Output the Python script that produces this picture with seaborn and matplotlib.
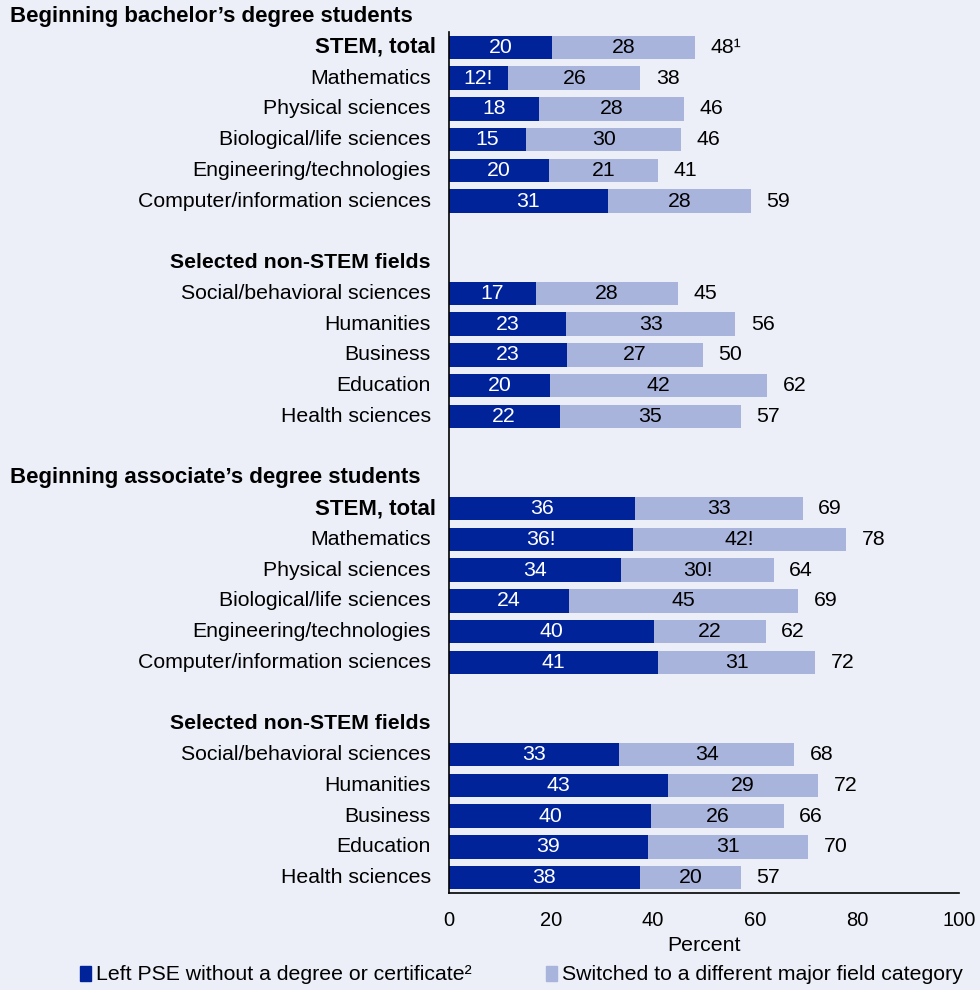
import pandas as pd
import seaborn as sns
import matplotlib.pyplot as plt
from matplotlib.patches import Patch

# Data (percent)
fields = ["STEM, total", "Mathematics", "Physical sciences", "Biological/life sciences",
          "Engineering/technologies", "Computer/information sciences"]
non_stem = ["Social/behavioral sciences", "Humanities", "Business", "Education", "Health sciences"]

# Beginning bachelor's degree students
ba_left = [20.3, 11.7, 17.7, 15.2, 19.7, 31.2, 17.1, 23.0, 23.2, 19.9, 21.8]
ba_switched = [28.0, 25.9, 28.4, 30.4, 21.3, 28.0, 27.8, 33.2, 26.7, 42.5, 35.5]
ba_left_lbl = ["20", "12!", "18", "15", "20", "31", "17", "23", "23", "20", "22"]
ba_sw_lbl = ["28", "26", "28", "30", "21", "28", "28", "33", "27", "42", "35"]
ba_total_lbl = ["48\u00b9", "38", "46", "46", "41", "59", "45", "56", "50", "62", "57"]

# Beginning associate's degree students
as_left = [36.5, 36.1, 33.8, 23.6, 40.2, 41.0, 33.4, 43.0, 39.7, 39.0, 37.5]
as_switched = [32.9, 41.8, 29.9, 44.9, 21.9, 30.8, 34.3, 29.4, 26.0, 31.5, 19.8]
as_left_lbl = ["36", "36!", "34", "24", "40", "41", "33", "43", "40", "39", "38"]
as_sw_lbl = ["33", "42!", "30!", "45", "22", "31", "34", "29", "26", "31", "20"]
as_total_lbl = ["69", "78", "64", "69", "62", "72", "68", "72", "66", "70", "57"]

DARK = "#00239a"
LIGHT = "#a8b4dc"
BG = "#eceff8"
LBL = 15.3
NUM = 15.3
HDR = 16

# row layout: header row 0, STEM rows 1-6, non-STEM header 8, rows 9-13, etc.
def rows(start):
    return list(range(start + 1, start + 7)) + list(range(start + 9, start + 14))

rec = []
for start, left, sw, ll, sl, tl in [(0, ba_left, ba_switched, ba_left_lbl, ba_sw_lbl, ba_total_lbl),
                                     (15, as_left, as_switched, as_left_lbl, as_sw_lbl, as_total_lbl)]:
    for r, name, a, b, la, lb, lt in zip(rows(start), fields + non_stem, left, sw, ll, sl, tl):
        rec.append(dict(row=r, field=name, left=a, switched=b, total=a + b,
                        left_lbl=la, sw_lbl=lb, total_lbl=lt))
df = pd.DataFrame(rec)

sns.set_style("white")
plt.rcParams['font.family'] = ['Liberation Sans', 'DejaVu Sans']
plt.rcParams['font.size'] = 14
plt.rcParams['text.color'] = 'black'
plt.rcParams['axes.labelcolor'] = 'black'

fig = plt.figure(figsize=(9.8, 9.9), dpi=100, facecolor=BG)
ax = fig.add_axes([0.4577, 0.098, 0.5209, 0.8697])
ax.set_facecolor(BG)

sns.barplot(data=df, x="total", y="row", orient="y", native_scale=True, color=LIGHT,
            width=0.76, errorbar=None, linewidth=0, saturation=1, ax=ax)
sns.barplot(data=df, x="left", y="row", orient="y", native_scale=True, color=DARK,
            width=0.76, errorbar=None, linewidth=0, saturation=1, ax=ax)

ax.set_xlim(0, 100)
ax.set_ylim(28.5, 0.5)
ax.set_xticks([0, 20, 40, 60, 80, 100])
ax.set_yticks([])
ax.set_ylabel("")
ax.set_xlabel("Percent", fontsize=LBL, labelpad=4, color="black")
ax.tick_params(axis="x", direction="in", length=6, width=1, pad=13, labelsize=14.5, colors="black")
for s in ["top", "right"]:
    ax.spines[s].set_visible(False)
for s in ["left", "bottom"]:
    ax.spines[s].set_color("black")
    ax.spines[s].set_linewidth(1.2)

for _, d in df.iterrows():
    ax.text(d.left / 2, d.row, d.left_lbl, ha="center", va="center", color="white", fontsize=NUM)
    ax.text(d.left + d.switched / 2, d.row, d.sw_lbl, ha="center", va="center", color="black", fontsize=NUM)
    ax.text(d.total + 3, d.row, d.total_lbl, ha="left", va="center", color="black", fontsize=NUM)
    bold = d.field == "STEM, total"
    ax.text(-0.025 if bold else -0.035, d.row, d.field, transform=ax.get_yaxis_transform(),
            ha="right", va="center", fontsize=HDR if bold else LBL,
            fontweight="bold" if bold else "normal")

# group headers
yt = ax.get_yaxis_transform()
for r in [8, 23]:
    ax.text(-0.035, r, "Selected non-STEM fields", transform=yt, ha="right", va="center",
            fontsize=LBL, fontweight="bold")
for r, txt in [(0, "Beginning bachelor\u2019s degree students"),
               (15, "Beginning associate\u2019s degree students")]:
    ax.text(-0.859, r, txt, transform=yt, ha="left", va="center", fontsize=HDR,
            fontweight="bold", clip_on=False)

handles = [Patch(color=DARK, label="Left PSE without a degree or certificate\u00b2"),
           Patch(color=LIGHT, label="Switched to a different major field category")]
fig.legend(handles=handles, loc="center", bbox_to_anchor=(0.532, 1 - 975 / 990), ncol=2,
           frameon=False, fontsize=LBL, handlelength=0.5, handleheight=0.7,
           handletextpad=0.25, columnspacing=3.5, borderpad=0)

fig.savefig("out.png", dpi=100, facecolor=BG)
